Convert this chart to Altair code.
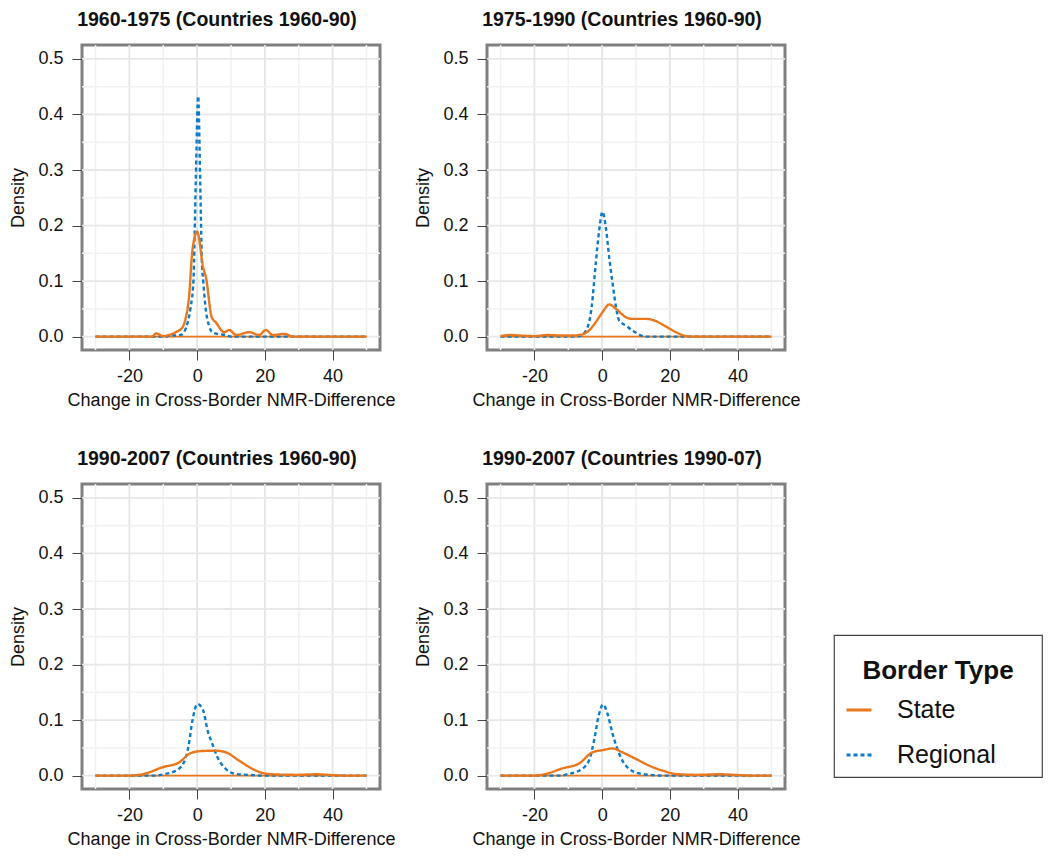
import altair as alt
import pandas as pd

FONT = "Liberation Sans"
ORANGE = "#E8771E"
BLUE = "#0B7BC8"

titles = [
    "1960-1975 (Countries 1960-90)",
    "1975-1990 (Countries 1960-90)",
    "1990-2007 (Countries 1960-90)",
    "1990-2007 (Countries 1990-07)",
]
types = ["State", "Regional"]

# ---- density curves ----
p1_state_x = [-30, -13.2, -12.2, -10, -8.3, -6.3, -4.3, -3.4, -2.4, -1.4, 0, 1.8, 2.6, 4.3, 5.5, 8, 9.5, 11.5, 15.4, 18.3, 20.3, 22.3, 25.8, 28.4, 50]
p1_state_y = [0, 0, 0.006, 0.001, 0.003, 0.008, 0.017, 0.033, 0.071, 0.155, 0.189, 0.124, 0.107, 0.035, 0.026, 0.008, 0.012, 0.003, 0.008, 0.003, 0.012, 0.003, 0.005, 0, 0]
p1_reg_x = [-30, -9, -8, -6, -4.4, -3.3, -2, -1.1, -0.4, 0.3, 0.9, 1.4, 1.8, 2.6, 3.5, 4.5, 6, 8.6, 10, 50]
p1_reg_y = [0, 0, 0.003, 0.002, 0.004, 0.016, 0.05, 0.1, 0.28, 0.433, 0.28, 0.137, 0.1, 0.047, 0.02, 0.008, 0.005, 0.003, 0, 0]

p2_state_x = [-30, -27, -24, -20, -16, -12, -9, -6.8, -3.9, -1.9, 0.1, 2.1, 4.1, 7.0, 9.0, 12.9, 15.9, 18.9, 21.8, 24.8, 27, 50]
p2_state_y = [0.001, 0.003, 0.002, 0.001, 0.003, 0.002, 0.002, 0.003, 0.011, 0.026, 0.044, 0.058, 0.05, 0.035, 0.032, 0.032, 0.028, 0.018, 0.008, 0.001, 0, 0]
p2_reg_x = [-30, -8, -6.3, -4.3, -3.1, -1.9, -0.9, 0.1, 1.1, 2.1, 3.1, 4.1, 5.0, 7.0, 9.0, 11.5, 13, 50]
p2_reg_y = [0, 0, 0.002, 0.017, 0.053, 0.131, 0.19, 0.225, 0.196, 0.142, 0.095, 0.053, 0.029, 0.02, 0.011, 0.002, 0, 0]

p3_state_x = [-30, -20.1, -15.2, -10.3, -5.3, -2.4, 0.6, 5.5, 8.5, 12.4, 16.4, 19.9, 24.3, 29.2, 35.2, 40, 44, 50]
p3_state_y = [0, 0, 0.004, 0.015, 0.024, 0.039, 0.044, 0.045, 0.042, 0.027, 0.012, 0.004, 0.002, 0.0015, 0.0025, 0.001, 0, 0]
p3_reg_x = [-30, -12, -10.3, -6.3, -3.9, -2.6, -1.4, 0.1, 1.8, 3.1, 4.5, 6.0, 8.5, 11.5, 16.4, 19, 50]
p3_reg_y = [0, 0, 0.002, 0.009, 0.024, 0.051, 0.099, 0.129, 0.117, 0.081, 0.057, 0.033, 0.012, 0.003, 0.001, 0, 0]

p4_state_x = [-30, -20.6, -16.7, -11.8, -6.8, -2.9, 0.1, 3.1, 6.0, 10, 13.9, 17.9, 21.8, 27.8, 34.7, 40.6, 45, 50]
p4_state_y = [0, 0, 0.003, 0.013, 0.022, 0.042, 0.046, 0.049, 0.042, 0.03, 0.018, 0.009, 0.003, 0.0015, 0.0025, 0.001, 0, 0]
p4_reg_x = [-30, -12, -10.8, -6.8, -3.9, -2.4, -0.9, 0.3, 1.6, 3.1, 4.5, 6.0, 8.0, 11.0, 14.9, 18, 50]
p4_reg_y = [0, 0, 0.002, 0.009, 0.027, 0.063, 0.111, 0.128, 0.111, 0.075, 0.048, 0.027, 0.012, 0.004, 0.001, 0, 0]

curves = [
    (p1_state_x, p1_state_y, p1_reg_x, p1_reg_y),
    (p2_state_x, p2_state_y, p2_reg_x, p2_reg_y),
    (p3_state_x, p3_state_y, p3_reg_x, p3_reg_y),
    (p4_state_x, p4_state_y, p4_reg_x, p4_reg_y),
]

# axis / grid values
x_ticks = [-20, 0, 20, 40]
x_minor = [-30, -10, 10, 30, 50]
y_ticks = [0, 0.1, 0.2, 0.3, 0.4, 0.5]
y_minor = [0.05, 0.15, 0.25, 0.35, 0.45]
x_range = [-30, 50]
x_domain = [-34, 54]
y_domain = [-0.024, 0.525]

W, H = 298, 305

BL = "\u2800"
LEG = dict(title=["", BL + "Border Type" + BL],
           labelExpr="datum.label + '" + BL * 2 + "'")

XS = alt.Scale(domain=x_domain, nice=False, zero=False)
YS = alt.Scale(domain=y_domain, nice=False, zero=False)
XAX = alt.Axis(values=x_ticks, title="Change in Cross-Border NMR-Difference",
               labelExpr="'' + datum.value")
YAX = alt.Axis(values=y_ticks, title="Density", labelExpr="format(datum.value, '.1f')")


def panel(i):
    sx, sy, rx, ry = curves[i]
    rows = [{"x": a, "y": b, "type": "Regional"} for a, b in zip(rx, ry)]
    rows += [{"x": a, "y": b, "type": "State"} for a, b in zip(sx, sy)]
    df = pd.DataFrame(rows)

    gx_minor = alt.Chart(pd.DataFrame({"x": x_minor})).mark_rule(
        color="#f1f1f1", strokeWidth=1.5).encode(x=alt.X("x:Q", scale=XS, axis=XAX))
    gx_major = alt.Chart(pd.DataFrame({"x": x_ticks})).mark_rule(
        color="#e4e4e4", strokeWidth=1.8).encode(x=alt.X("x:Q", scale=XS, axis=XAX))
    gy_minor = alt.Chart(pd.DataFrame({"y": y_minor})).mark_rule(
        color="#f1f1f1", strokeWidth=1.5).encode(y=alt.Y("y:Q", scale=YS, axis=YAX))
    gy_major = alt.Chart(pd.DataFrame({"y": y_ticks})).mark_rule(
        color="#e7e7e7", strokeWidth=1.8).encode(y=alt.Y("y:Q", scale=YS, axis=YAX))

    base = alt.Chart(pd.DataFrame({"x": [x_range[0]], "x2": [x_range[1]], "y": [0]})).mark_rule(
        color=ORANGE, strokeWidth=1.6).encode(
        x=alt.X("x:Q", scale=XS, axis=XAX), x2="x2:Q", y=alt.Y("y:Q", scale=YS, axis=YAX))

    lines = alt.Chart(df).mark_line(interpolate="monotone", strokeWidth=2.4, clip=True).encode(
        x=alt.X("x:Q", scale=XS, axis=XAX),
        y=alt.Y("y:Q", scale=YS, axis=YAX),
        color=alt.Color("type:N", scale=alt.Scale(domain=types, range=[ORANGE, BLUE]),
                        legend=alt.Legend(**LEG)),
        strokeDash=alt.StrokeDash("type:N", scale=alt.Scale(domain=types, range=[[1, 0], [4, 3]]),
                                  legend=alt.Legend(**LEG)),
        order=alt.Order("x:Q"),
    )

    return alt.layer(gx_minor, gx_major, gy_minor, gy_major, base, lines).properties(
        width=W, height=H,
        title=alt.TitleParams(titles[i], anchor="middle", dx=-14),
    )


chart = alt.concat(
    panel(0), panel(1), panel(2), panel(3),
    columns=2, spacing={"row": 134, "column": 107}, bounds="flush",
).properties(
    padding={"left": 0, "top": 0, "right": 0, "bottom": 0}
).configure(
    font=FONT,
).configure_view(
    stroke="#808080", strokeWidth=3,
).configure_axis(
    domain=False, grid=False, ticks=True, tickColor="#444444", tickWidth=1, tickSize=10,
    labelFont=FONT, labelFontSize=18, labelColor="#111111", labelPadding=7,
    titleFont=FONT, titleFontSize=18, titleFontWeight="normal", titleColor="#111111",
).configure_axisY(
    titlePadding=10, labelPadding=9,
).configure_axisX(
    titlePadding=6,
).configure_title(
    font=FONT, fontSize=19.5, fontWeight="bold", color="#111111", offset=14,
).configure_legend(
    orient="none", legendX=752, legendY=590,
    strokeColor="#444444", strokeWidth=1.2, padding=9, fillColor="white",
    titleFont=FONT, titleFontSize=26, titleFontWeight="bold", titleColor="#111111",
    titleLineHeight=14, titleAnchor="middle", titlePadding=12, titleLimit=600,
    labelFont=FONT, labelFontSize=25, labelColor="#111111", labelOffset=24,
    labelLimit=500,
    symbolType="stroke", symbolSize=625, symbolStrokeWidth=3, rowPadding=18,
)

chart.save("out.html", embed_options={"renderer": "svg", "actions": False})
